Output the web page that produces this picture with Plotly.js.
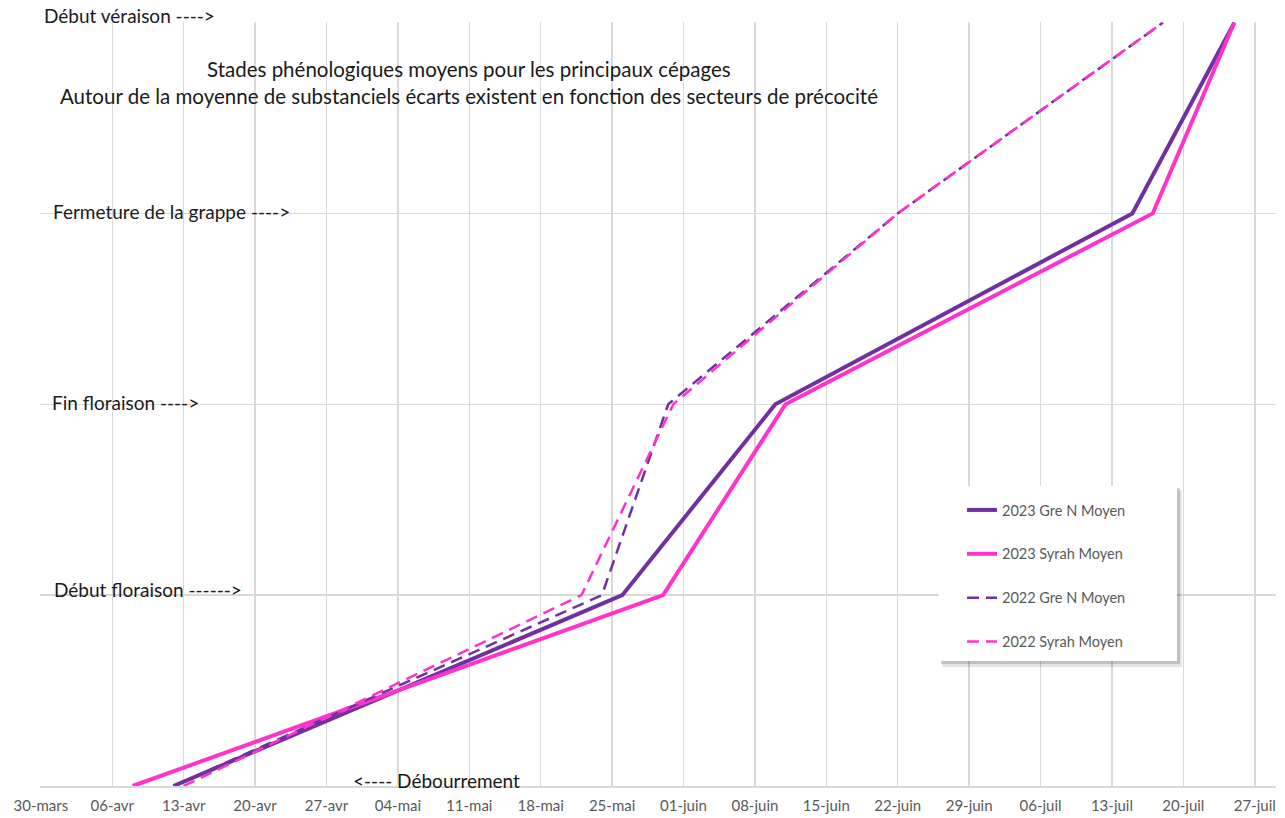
<!DOCTYPE html>
<html>
<head>
<meta charset="utf-8">
<script src="https://cdn.plot.ly/plotly-3.0.1.min.js"></script>
<style>
html,body{margin:0;padding:0;background:#fff;}
#chart{width:1285px;height:818px;}
</style>
</head>
<body>
<div id="chart"></div>
<script>
// ---- Data ----
const stageValues = [0, 1, 2, 3, 4];
const stageLabels = ['<---- Débourrement', 'Début floraison ------>', 'Fin floraison ---->', 'Fermeture de la grappe ---->', 'Début véraison ---->'];

const seriesNames = ['2023 Gre N Moyen', '2023 Syrah Moyen', '2022 Gre N Moyen', '2022 Syrah Moyen'];
const gre2023Dates   = ['2023-04-12', '2023-05-26', '2023-06-10', '2023-07-15', '2023-07-25'];
const syrah2023Dates = ['2023-04-08', '2023-05-30', '2023-06-11', '2023-07-17', '2023-07-25'];
const gre2022Dates   = ['2023-04-12', '2023-05-24', '2023-05-30 12:00', '2023-06-22', '2023-07-18'];
const syrah2022Dates = ['2023-04-13', '2023-05-22', '2023-05-31', '2023-06-22', '2023-07-18'];

const tickDates = ['2023-03-30','2023-04-06','2023-04-13','2023-04-20','2023-04-27','2023-05-04','2023-05-11','2023-05-18','2023-05-25','2023-06-01','2023-06-08','2023-06-15','2023-06-22','2023-06-29','2023-07-06','2023-07-13','2023-07-20','2023-07-27'];
const tickLabels = ['30-mars','06-avr','13-avr','20-avr','27-avr','04-mai','11-mai','18-mai','25-mai','01-juin','08-juin','15-juin','22-juin','29-juin','06-juil','13-juil','20-juil','27-juil'];

const titleLines = ['Stades phénologiques moyens pour les principaux cépages', 'Autour de la moyenne de substanciels écarts existent en fonction des secteurs de précocité'];

// ---- Styles ----
const purple = '#7030A0';
const pink = '#FF33CC';
const W = 1285, H = 818;
const M = {l: 40, r: 9, t: 22, b: 32};
const PW = W - M.l - M.r, PH = H - M.t - M.b;
const px = X => (X - M.l) / PW;
const py = Y => (H - M.b - Y) / PH;

const traces = [
  {x: gre2023Dates, y: stageValues, name: seriesNames[0], legendgroup: 'a', line: {color: purple, width: 4}},
  {x: syrah2023Dates, y: stageValues, name: seriesNames[1], legendgroup: 'b', line: {color: pink, width: 4}},
  {x: gre2022Dates, y: stageValues, name: seriesNames[2], legendgroup: 'c', line: {color: purple, width: 2.5, dash: '12px,7px'}},
  {x: syrah2022Dates, y: stageValues, name: seriesNames[3], legendgroup: 'd', line: {color: pink, width: 2.5, dash: '12px,7px'}}
].map(t => Object.assign({type: 'scatter', mode: 'lines', hoverinfo: 'skip'}, t));

const labelFont = {family: 'Lato, "Liberation Sans", sans-serif', size: 19, color: '#1a1a1a'};
const stagePos = [[351, 780], [52, 589], [50, 403], [51, 212], [42, 16]];
const annotations = stageLabels.map((txt, i) => ({
  text: txt, xref: 'paper', yref: 'paper', x: px(stagePos[i][0]), y: py(stagePos[i][1]),
  xanchor: 'left', yanchor: 'middle', showarrow: false, font: labelFont
}));
const titleFont = {family: labelFont.family, size: 20.5, color: '#1a1a1a'};
annotations.push({text: titleLines[0], xref: 'paper', yref: 'paper', x: px(469), y: py(69), xanchor: 'center', yanchor: 'middle', showarrow: false, font: titleFont});
annotations.push({text: titleLines[1], xref: 'paper', yref: 'paper', x: px(469), y: py(96), xanchor: 'center', yanchor: 'middle', showarrow: false, font: titleFont});

const shapes = [
  {type: 'rect', xref: 'paper', yref: 'paper', x0: px(942), x1: px(1182), y0: py(667), y1: py(490), fillcolor: 'rgba(0,0,0,0.10)', line: {width: 0}, layer: 'above'},
  {type: 'rect', xref: 'paper', yref: 'paper', x0: px(941), x1: px(1180), y0: py(664), y1: py(488), fillcolor: 'rgba(0,0,0,0.16)', line: {width: 0}, layer: 'above'},
  {type: 'rect', xref: 'paper', yref: 'paper', x0: px(939), x1: px(1177), y0: py(661), y1: py(486), fillcolor: '#ffffff', line: {width: 0}, layer: 'above'}
];

const layout = {
  width: W, height: H,
  margin: M,
  paper_bgcolor: '#ffffff', plot_bgcolor: '#ffffff',
  showlegend: true,
  legend: {
    x: px(962), y: py(494), xanchor: 'left', yanchor: 'top',
    bgcolor: 'rgba(0,0,0,0)', borderwidth: 0,
    font: {family: 'Lato, "Liberation Sans", sans-serif', size: 14.5, color: '#595959'},
    tracegroupgap: 22, traceorder: 'grouped'
  },
  xaxis: {
    type: 'date', range: ['2023-03-29 22:00', '2023-07-29 02:00'],
    tickmode: 'array', tickvals: tickDates, ticktext: tickLabels,
    showgrid: true, gridcolor: '#d9d9d9', gridwidth: 1.5,
    showline: true, linecolor: '#d9d9d9', linewidth: 1.5,
    ticks: '', ticklabelstandoff: 5,
    tickfont: {family: '"Liberation Sans Narrow", Lato, sans-serif', size: 15, color: '#595959'},
    zeroline: false, fixedrange: true
  },
  yaxis: {
    range: [0, 4.003], tickmode: 'array', tickvals: stageValues,
    showticklabels: false, ticks: '',
    showgrid: true, gridcolor: '#d9d9d9', gridwidth: 1.5,
    showline: false, zeroline: false, fixedrange: true
  },
  annotations: annotations,
  shapes: shapes,
  hovermode: false
};

Plotly.newPlot('chart', traces, layout, {displayModeBar: false, staticPlot: true});
</script>
</body>
</html>
